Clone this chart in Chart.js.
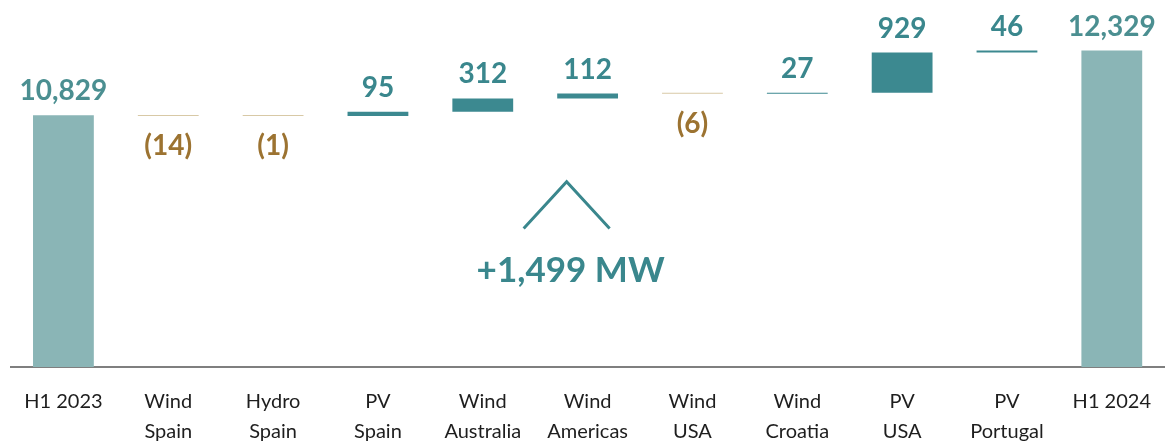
<!DOCTYPE html>
<html>
<head>
<meta charset="utf-8">
<script src="https://cdn.jsdelivr.net/npm/chart.js@4.4.1/dist/chart.umd.min.js"></script>
<style>
    html, body { margin: 0; padding: 0; background: #ffffff; overflow: hidden; }
    #wrap { position: relative; width: 1171px; height: 445px; }
</style>
</head>
<body>
<div id="wrap"><canvas id="chart"></canvas></div>
<script>
// ====== Data ======
const categories = [
    'H1 2023',
    ['Wind', 'Spain'],
    ['Hydro', 'Spain'],
    ['PV', 'Spain'],
    ['Wind', 'Australia'],
    ['Wind', 'Americas'],
    ['Wind', 'USA'],
    ['Wind', 'Croatia'],
    ['PV', 'USA'],
    ['PV', 'Portugal'],
    'H1 2024'
];
const startTotal = 10829;
const deltas = [-14, -1, 95, 312, 112, -6, 27, 929, 46];
const endTotal = 12329;
const summaryText = '+1,499 MW';

// axis range (the chart is not zero based)
const yMin = 5000;
const yMax = 13500;

// ====== Styles ======
const colors = {
    total: '#8ab5b6',
    pos: '#3c8990',
    neg: '#d8c9a6',
    totalText: '#4b8f91',
    posText: '#3a878d',
    negText: '#9c7331',
    tick: '#1e1e1e',
    axis: '#7f7f7f'
};
const FONT = 'Lato, "Open Sans", sans-serif';

// summary annotation: x as category position, y in axis units
const annot = { x: 4.8, apex: 9290, foot: 8210, text: 6970, halfWidth: 0.41 };

// ====== Build waterfall ======
const floating = [];
const kinds = [];
const labels = [];

floating.push([yMin, startTotal]);
kinds.push('total');
labels.push(startTotal.toLocaleString('en-US'));

let running = startTotal;
deltas.forEach(d => {
    const next = running + d;
    floating.push([Math.min(running, next), Math.max(running, next)]);
    kinds.push(d < 0 ? 'neg' : 'pos');
    labels.push(d < 0 ? '(' + Math.abs(d).toLocaleString('en-US') + ')' : d.toLocaleString('en-US'));
    running = next;
});

floating.push([yMin, endTotal]);
kinds.push('total');
labels.push(endTotal.toLocaleString('en-US'));

// ====== Plugins ======
const valueLabels = {
    id: 'valueLabels',
    afterDatasetsDraw(chart) {
        const ctx = chart.ctx;
        const meta = chart.getDatasetMeta(0);
        ctx.save();
        ctx.font = 'bold 28px ' + FONT;
        ctx.textAlign = 'center';
        meta.data.forEach((bar, i) => {
            const p = bar.getProps(['x', 'y', 'base'], true);
            const top = Math.min(p.y, p.base);
            const bottom = Math.max(p.y, p.base);
            if (kinds[i] === 'neg') {
                ctx.fillStyle = colors.negText;
                ctx.textBaseline = 'top';
                ctx.fillText(labels[i], p.x, bottom + 16);
            } else {
                ctx.fillStyle = kinds[i] === 'total' ? colors.totalText : colors.posText;
                ctx.textBaseline = 'alphabetic';
                ctx.fillText(labels[i], p.x, top - 15);
            }
        });

        // chevron + total change
        const xs = chart.scales.x;
        const ys = chart.scales.y;
        const cx = xs.getPixelForValue(annot.x);
        const w = xs.getPixelForValue(annot.x + annot.halfWidth) - cx;
        ctx.strokeStyle = colors.posText;
        ctx.lineWidth = 3;
        ctx.beginPath();
        ctx.moveTo(cx - w, ys.getPixelForValue(annot.foot));
        ctx.lineTo(cx, ys.getPixelForValue(annot.apex));
        ctx.lineTo(cx + w, ys.getPixelForValue(annot.foot));
        ctx.stroke();

        ctx.font = 'bold 35px ' + FONT;
        ctx.fillStyle = colors.posText;
        ctx.textBaseline = 'alphabetic';
        ctx.fillText(summaryText, cx + 4, ys.getPixelForValue(annot.text));
        ctx.restore();
    }
};

// ====== Chart ======
new Chart(document.getElementById('chart'), {
    type: 'bar',
    data: {
        labels: categories,
        datasets: [{
            data: floating,
            backgroundColor: kinds.map(k => colors[k]),
            borderWidth: 0,
            barPercentage: 1,
            categoryPercentage: 0.58,
            minBarLength: 1
        }]
    },
    options: {
        responsive: true,
        maintainAspectRatio: false,
        animation: false,
        layout: { padding: { left: 11, right: 0, top: 0, bottom: 0 } },
        plugins: {
            legend: { display: false },
            tooltip: { enabled: false }
        },
        scales: {
            x: {
                grid: { display: false, drawTicks: false },
                border: { display: true, color: colors.axis, width: 2 },
                ticks: {
                    color: colors.tick,
                    font: { family: FONT, size: 20, lineHeight: 1.5 },
                    padding: 20,
                    maxRotation: 0,
                    autoSkip: false
                },
                afterFit: (scale) => { scale.height = 78; }
            },
            y: {
                display: false,
                min: yMin,
                max: yMax
            }
        }
    },
    plugins: [valueLabels]
});
</script>
</body>
</html>
